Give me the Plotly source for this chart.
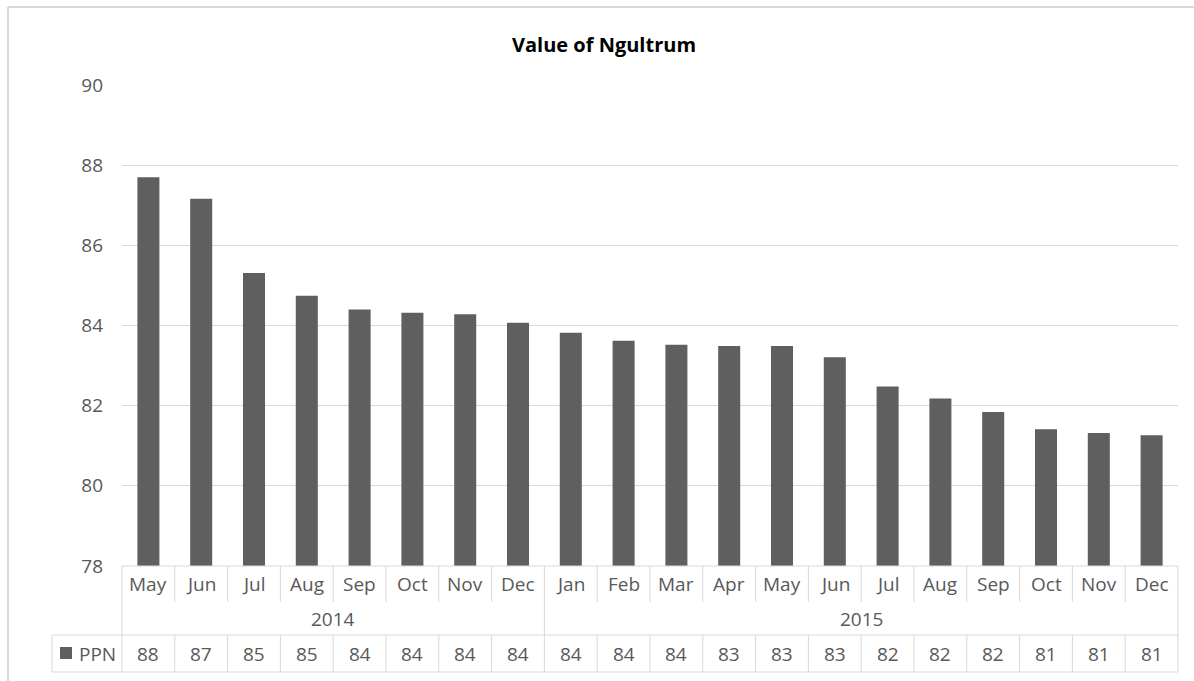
import plotly.graph_objects as go

# ---- data ----
months = ["May", "Jun", "Jul", "Aug", "Sep", "Oct", "Nov", "Dec",
          "Jan", "Feb", "Mar", "Apr", "May", "Jun", "Jul", "Aug", "Sep", "Oct", "Nov", "Dec"]
years = ["2014"] * 8 + ["2015"] * 12
ppn = [87.70, 87.16, 85.31, 84.74, 84.40, 84.32, 84.28, 84.07,
       83.82, 83.62, 83.52, 83.49, 83.49, 83.21, 82.48, 82.18, 81.84, 81.41, 81.32, 81.26]
series_name = "PPN"
title = "Value of Ngultrum"
y_ticks = [78, 80, 82, 84, 86, 88, 90]

# ---- geometry (pixels) ----
W, H = 1194, 681
L, R, T, B = 122, 1178, 85, 566
PW, PH = R - L, B - T
N = len(months)

def px(p):
    return (p - L) / PW

def py(p):
    return (B - p) / PH

FONT = "Open Sans, Noto Sans, Arial, sans-serif"
GRAY_TXT = "#595959"
LINE = "#d9d9d9"
BAR = "#5f5f5f"

x = list(range(N))
fig = go.Figure(go.Bar(x=x, y=ppn, marker=dict(color=BAR, line=dict(width=0)),
                       name=series_name, showlegend=False))

shapes = []
def seg(x0, y0, x1, y1, color=LINE, w=1):
    shapes.append(dict(type="line", xref="paper", yref="paper",
                       x0=px(x0), y0=py(y0), x1=px(x1), y1=py(y1),
                       line=dict(color=color, width=w), layer="above"))

# outer chart border (top and left)
seg(8, 7, W, 7, color="#d9d9d9", w=2)
seg(8, 7, 8, 681, color="#d9d9d9", w=2)

row_top, row_month, row_year, row_val = 566, 602, 635, 672
cell = PW / N
# horizontal lines
seg(L, row_top, R, row_top)
seg(52, row_year, R, row_year)
seg(52, row_val, R, row_val)
# left / right outer lines
seg(L, row_top, L, row_val)
seg(R, row_top, R, row_val)
seg(52, row_year, 52, row_val)
# month separators and value separators
for i in range(1, N):
    xx = L + i * cell
    if years[i] != years[i - 1]:
        seg(xx, row_top, xx, row_val)
    else:
        seg(xx, row_top, xx, row_month)
        seg(xx, row_year, xx, row_val)

# legend key square
shapes.append(dict(type="rect", xref="paper", yref="paper",
                   x0=px(60), x1=px(72), y0=py(659), y1=py(647),
                   fillcolor=BAR, line=dict(width=0)))

ann = []
for i, m in enumerate(months):
    ann.append(dict(x=i, xref="x", y=py(584), yref="paper", text=m, showarrow=False,
                    font=dict(family=FONT, size=19, color=GRAY_TXT), yanchor="middle"))
    ann.append(dict(x=i, xref="x", y=py(654), yref="paper", text=f"{ppn[i]:.0f}", showarrow=False,
                    font=dict(family=FONT, size=19, color=GRAY_TXT), yanchor="middle"))
# year labels
groups = []
for i, yv in enumerate(years):
    if not groups or groups[-1][0] != yv:
        groups.append([yv, i, i])
    else:
        groups[-1][2] = i
for yv, a, b in groups:
    ann.append(dict(x=(a + b) / 2, xref="x", y=py(619), yref="paper", text=yv, showarrow=False,
                    font=dict(family=FONT, size=19, color=GRAY_TXT), yanchor="middle"))
ann.append(dict(x=px(77), xref="paper", y=py(654), yref="paper", text=series_name, showarrow=False,
                xanchor="left", font=dict(family=FONT, size=19, color=GRAY_TXT), yanchor="middle"))
ann.append(dict(x=px(604), xref="paper", y=py(44), yref="paper", text=f"<b>{title}</b>",
                showarrow=False, font=dict(family=FONT, size=20, color="#000000"), yanchor="middle"))

fig.update_layout(
    width=W, height=H,
    margin=dict(l=L, r=W - R, t=T, b=H - B, pad=0),
    paper_bgcolor="white", plot_bgcolor="white",
    bargap=0.583,
    shapes=shapes, annotations=ann,
    xaxis=dict(range=[-0.5, N - 0.5], showticklabels=False, showgrid=False,
               zeroline=False, showline=False, ticks=""),
    yaxis=dict(range=[y_ticks[0], y_ticks[-1]], tickvals=y_ticks, showgrid=True,
               gridcolor=LINE, gridwidth=1, zeroline=False, showline=False, ticks="",
               ticklabelstandoff=18,
               tickfont=dict(family=FONT, size=19, color=GRAY_TXT)),
)

fig.write_html("out.html", config={"displayModeBar": False},
               post_script="document.body.style.margin='0px';document.body.style.overflow='hidden';")
